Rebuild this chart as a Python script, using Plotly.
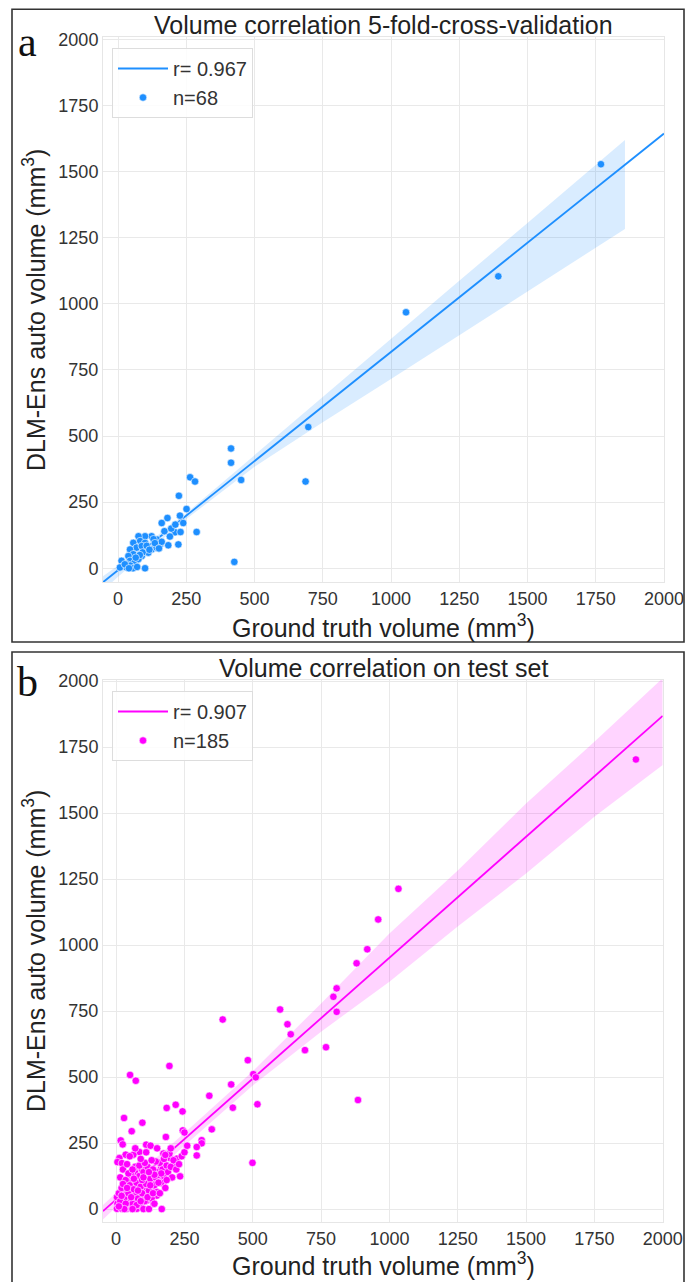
import plotly.graph_objects as go

# ---------------- Panel a: 5-fold cross-validation ----------------
A_GT = [1769, 1393, 1055, 697, 687, 414, 414, 451, 426, 264, 282, 223, 251, 227, 239, 181,
        160, 288, 209, 229, 184, 221, 142, 123, 99, 75, 81, 56, 68, 44, 56, 38, 13, 20, 32,
        50, 7, 123, 111, 142, 154, 99, 87, 68, 87, 44, 32, 99,
        60, 45, 75, 90, 105, 130, 170, 195, 160, 135, 115, 80, 65, 25, 55, 70, 40, 190, 210, 150]
A_AUTO = [1528, 1104, 968, 534, 328, 453, 399, 334, 24, 344, 328, 274, 224, 199, 171, 190,
          171, 137, 136, 137, 87, 90, 109, 121, 121, 121, 103, 96, 78, 71, 53, 46, 28, 9, 3,
          3, 3, 71, 59, 78, 90, 96, 46, 28, 84, 28, 15, 0,
          20, 10, 35, 60, 85, 110, 140, 150, 100, 95, 70, 50, 40, 15, 0, 5, 0, 120, 165, 75]
A_LINE_X = [-55, 2000]
A_LINE_Y = [-53, 1644]
A_BAND_X = [-55, 0, 250, 500, 750, 1000, 1250, 1500, 1750, 1857]
A_BAND_UP = [-30, 10, 208, 428, 650, 867, 1087, 1306, 1526, 1620]
A_BAND_LO = [-85, -32, 186, 384, 552, 716, 881, 1047, 1212, 1283]

# ---------------- Panel b: test set ----------------
B_GT = [1902, 1033, 959, 919, 880, 807, 795, 807, 600, 627, 639, 691, 768, 885, 390,
        482, 502, 511, 195, 51, 72, 421, 341, 517, 427, 350, 313, 313, 499,
        185, 218, 243, 29, 96, 57, 182, 244, 250, 17, 24, 110, 126, 85, 63, 35, 12, 5, 21,
        173, 198, 222, 214, 234, 295, 295, 165, 183, 149, 130, 161, 118, 142, 173, 94, 69,
        51, 76, 100, 45, 27, 57, 82, 112, 130, 15, 39, 69, 94, 3, 21, 45, 76, 112, 137, 5,
        3, 21, 39, 57, 76, 167, 33, 88, 118, 149,
        10, 15, 20, 25, 30, 35, 40, 45, 50, 55, 60, 65, 70, 75, 80, 85, 90, 95, 100, 105,
        110, 115, 120, 125, 130, 135, 140, 145, 150, 155, 160, 165, 170, 175, 180, 185, 190,
        200, 205, 210, 220, 230, 240, 250, 15, 25, 35, 45, 55, 65, 75, 85, 95, 105, 115, 125,
        135, 145, 155, 165, 175, 185, 195, 100, 120, 140, 60, 30, 10, 20, 40, 50, 70, 90,
        110, 130, 150, 80, 60, 100, 140, 160, 180, 200, 120, 90, 260]
B_AUTO = [1703, 1213, 1097, 984, 931, 836, 804, 747, 756, 700, 662, 602, 613, 413, 718,
          564, 511, 499, 542, 508, 486, 472, 429, 397, 384, 302, 261, 249, 175,
          383, 395, 370, 345, 327, 295, 273, 298, 290, 260, 245, 244, 240, 216, 206, 206, 193,
          178, 174, 210, 193, 191, 168, 124, 235, 203, 155, 140, 140, 125, 114, 102, 96, 96,
          150, 140, 127, 114, 102, 102, 89, 76, 76, 70, 79, 63, 57, 51, 45, 45, 32, 28, 28, 32,
          20, 20, 1, 1, 1, 1, 1, 0, 14, 14, 51, 51,
          60, 120, 80, 150, 40, 110, 170, 60, 90, 130, 20, 75, 160, 100, 40, 125, 85, 60, 140,
          30, 95, 160, 70, 115, 40, 150, 90, 120, 65, 130, 175, 100, 150, 125, 80, 165, 140,
          160, 120, 185, 150, 170, 200, 215, 30, 95, 20, 135, 45, 115, 15, 165, 110, 175, 45,
          90, 60, 180, 100, 135, 190, 110, 210, 0, 0, 20, 0, 0, 10, 50, 80, 200, 230, 190, 215,
          185, 230, 70, 150, 120, 130, 60, 205, 230, 140, 30, 240]
B_LINE_X = [-48, 2000]
B_LINE_Y = [-8, 1868]
B_BAND_X = [-48, 0, 250, 500, 750, 1000, 1250, 1500, 1750, 2000]
B_BAND_UP = [15, 62, 288, 522, 779, 1044, 1282, 1536, 1770, 2011]
B_BAND_LO = [-40, 8, 240, 468, 672, 861, 1070, 1271, 1486, 1682]

TICKS = [0, 250, 500, 750, 1000, 1250, 1500, 1750, 2000]
TICK_TEXT = [str(t) for t in TICKS]

BLUE = "#1E8FFF"
MAGENTA = "#FF00FF"
W, H = 686, 1282
FONT = "Liberation Sans, Arial, sans-serif"


def px(x):
    return x / W


def py(y):
    return 1 - y / H


fig = go.Figure()

def add_panel(xa, ya, gt, auto, lx, ly, bx, bup, blo, color, fill, r_label, n_label, legend):
    fig.add_trace(go.Scatter(
        x=bx + bx[::-1], y=bup + blo[::-1], fill="toself", fillcolor=fill,
        line=dict(width=0), mode="lines", hoverinfo="skip", showlegend=False,
        xaxis=xa, yaxis=ya))
    fig.add_trace(go.Scatter(
        x=lx, y=ly, mode="lines", line=dict(color=color, width=1.8),
        name=r_label, legend=legend, xaxis=xa, yaxis=ya))
    fig.add_trace(go.Scatter(
        x=gt, y=auto, mode="markers",
        marker=dict(color=color, size=7.5, line=dict(color="white", width=0.6)),
        name=n_label, legend=legend, xaxis=xa, yaxis=ya))


add_panel("x", "y", A_GT, A_AUTO, A_LINE_X, A_LINE_Y, A_BAND_X, A_BAND_UP, A_BAND_LO,
          BLUE, "rgba(30,143,255,0.17)", "r= 0.967", "n=68", "legend")
add_panel("x2", "y2", B_GT, B_AUTO, B_LINE_X, B_LINE_Y, B_BAND_X, B_BAND_UP, B_BAND_LO,
          MAGENTA, "rgba(255,0,255,0.17)", "r= 0.907", "n=185", "legend2")

axis_common = dict(
    showgrid=True, gridcolor="#e9e9e9", gridwidth=1, zeroline=False,
    showline=True, linecolor="#e6e6e6", linewidth=1, mirror=True, ticks="",
    tickmode="array", tickvals=TICKS, ticktext=TICK_TEXT, automargin=False,
    tickfont=dict(family=FONT, size=18, color="#333333"),
)

top_plot = (103, 664, 37.3, 582)
bot_plot = (103, 662.7, 680, 1222)

legend_common = dict(xanchor="left", yanchor="top", itemwidth=50,
                     bgcolor="rgba(255,255,255,0.85)", bordercolor="#dddddd", borderwidth=1,
                     font=dict(family=FONT, size=20, color="#333333"))

fig.update_layout(
    width=W, height=H, margin=dict(l=0, r=0, t=0, b=0, pad=0, autoexpand=False),
    paper_bgcolor="white", plot_bgcolor="white",
    showlegend=True,
    xaxis=dict(domain=[px(top_plot[0]), px(top_plot[1])], anchor="y", range=[-55, 2000], **axis_common),
    yaxis=dict(domain=[py(top_plot[3]), py(top_plot[2])], anchor="x", range=[-52, 2008], **axis_common),
    xaxis2=dict(domain=[px(bot_plot[0]), px(bot_plot[1])], anchor="y2", range=[-48, 2000], **axis_common),
    yaxis2=dict(domain=[py(bot_plot[3]), py(bot_plot[2])], anchor="x2", range=[-49, 2004], **axis_common),
    legend=dict(x=px(112), y=py(48), **legend_common),
    legend2=dict(x=px(112), y=py(691), **legend_common),
)

annotations = []
def text_ann(txt, x, y, size, family=FONT, angle=0, color="#222222"):
    annotations.append(dict(text=txt, x=px(x), y=py(y), xref="paper", yref="paper",
                            xanchor="center", yanchor="middle", showarrow=False,
                            textangle=angle, font=dict(family=family, size=size, color=color)))

# titles
text_ann("Volume correlation 5-fold-cross-validation", 383, 25, 25)
text_ann("Volume correlation on test set", 383, 668, 25)
# axis titles
text_ann("Ground truth volume (mm<sup>3</sup>)", 383, 626, 25)
text_ann("Ground truth volume (mm<sup>3</sup>)", 383, 1264, 25)
text_ann("DLM-Ens auto volume (mm<sup>3</sup>)", 34, 310, 25, angle=-90)
text_ann("DLM-Ens auto volume (mm<sup>3</sup>)", 34, 951, 25, angle=-90)
# panel letters
text_ann("a", 28, 42, 42, family="Liberation Serif, Times New Roman, serif", color="#111111")
text_ann("b", 28, 682, 42, family="Liberation Serif, Times New Roman, serif", color="#111111")

fig.update_layout(annotations=annotations)

fig.update_layout(shapes=[
    dict(type="rect", xref="paper", yref="paper", x0=px(12), x1=px(684), y0=py(642), y1=py(9.3),
         line=dict(color="#333333", width=1.6), fillcolor="rgba(0,0,0,0)", layer="above"),
    dict(type="rect", xref="paper", yref="paper", x0=px(12), x1=px(684), y0=py(1290), y1=py(652),
         line=dict(color="#333333", width=1.6), fillcolor="rgba(0,0,0,0)", layer="above"),
])

fig.write_html(
    "out.html",
    config={"displayModeBar": False},
    post_script="document.body.style.margin='0';document.body.style.padding='0';"
                "document.documentElement.style.overflow='hidden';",
)
